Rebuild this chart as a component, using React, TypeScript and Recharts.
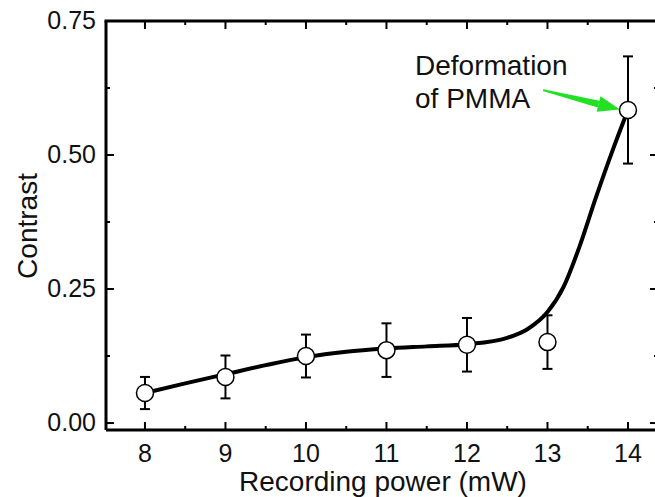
import { ComposedChart, Line, Scatter, ErrorBar, XAxis, YAxis, ReferenceLine } from "recharts";

const FONT = "'Liberation Sans', Arial, Helvetica, sans-serif";
const GREEN = "#22e022";
const PLOT_TOP = 21;
const PLOT_BOTTOM = 430;
const PLOT_LEFT = 106;
const PLOT_RIGHT = 658;

// measured points (recording power in mW, contrast, error)
const powers = [8, 9, 10, 11, 12, 13, 14];
const contrast = [0.056, 0.086, 0.125, 0.136, 0.146, 0.151, 0.584];
const contrastErr = [0.03, 0.04, 0.04, 0.05, 0.05, 0.05, 0.1];

// guide-to-the-eye curve
const fitPower = [8, 8.5, 9, 9.5, 10, 10.5, 11, 11.5, 12, 12.5, 12.75, 13, 13.2, 13.4, 13.6, 13.8, 14];
const fitContrast = [0.056, 0.074, 0.091, 0.108, 0.123, 0.133, 0.139, 0.143, 0.147, 0.159, 0.175, 0.207, 0.254, 0.33, 0.42, 0.505, 0.584];

const xTicks = [8, 8.5, 9, 9.5, 10, 10.5, 11, 11.5, 12, 12.5, 13, 13.5, 14];
const yTicks = [0, 0.125, 0.25, 0.375, 0.5, 0.625, 0.75];

const X_DOMAIN = [7.516, 14.373];
const Y_DOMAIN = [-0.013, 0.75];

const points = powers.map((x, i) => ({ x, y: contrast[i], err: contrastErr[i] }));
const fit = fitPower.map((x, i) => ({ x, y: fitContrast[i] }));

const isMajorX = (v: number) => Number.isInteger(v);
const isMajorY = (v: number) => Math.abs(v / 0.25 - Math.round(v / 0.25)) < 1e-6;

// bottom tick: inward mark on the bottom axis, mirrored mark on the top frame, label
function BottomTick({ x, y, payload }: any) {
  const v = payload.value;
  const major = isMajorX(v);
  const len = major ? 8 : 4;
  const top = y - (PLOT_BOTTOM - PLOT_TOP);
  return (
    <g>
      <line x1={x} y1={y} x2={x} y2={y - len} stroke="#000" strokeWidth={2} />
      <line x1={x} y1={top} x2={x} y2={top + len} stroke="#000" strokeWidth={2} />
      {major ? (
        <text x={x} y={y + 32} textAnchor="middle" fontSize={25} fontFamily={FONT} fill="#111">
          {v}
        </text>
      ) : null}
    </g>
  );
}

// left tick; the topmost tick also carries the top frame line
function LeftTick({ x, y, payload }: any) {
  const v = payload.value;
  const major = isMajorY(v);
  const isTop = Math.abs(v - Y_DOMAIN[1]) < 1e-9;
  return (
    <g>
      {isTop ? (
        <line x1={x - 1.5} y1={y} x2={x + (PLOT_RIGHT - PLOT_LEFT) + 2} y2={y} stroke="#000" strokeWidth={3} />
      ) : null}
      <line x1={x} y1={y} x2={x + (major ? 8 : 4)} y2={y} stroke="#000" strokeWidth={2} />
      {major ? (
        <text x={x - 10} y={y + 8} textAnchor="end" fontSize={25} fontFamily={FONT} fill="#111">
          {v.toFixed(2)}
        </text>
      ) : null}
    </g>
  );
}

function RightTick({ x, y, payload }: any) {
  const major = isMajorY(payload.value);
  return <line x1={x} y1={y} x2={x - (major ? 8 : 4)} y2={y} stroke="#000" strokeWidth={2} />;
}

function OpenCircle({ cx, cy }: any) {
  return <circle cx={cx} cy={cy} r={8.5} fill="#fff" stroke="#000" strokeWidth={1.5} />;
}

function Arrow({ x1, y1, x2, y2 }: any) {
  const dx = x2 - x1;
  const dy = y2 - y1;
  const len = Math.hypot(dx, dy);
  const ux = dx / len;
  const uy = dy / len;
  const px = -uy;
  const py = ux;
  const head = 22;
  const bx = x2 - ux * head;
  const by = y2 - uy * head;
  const shaft = [
    [x1 + px * 1, y1 + py * 1],
    [bx + px * 3.5, by + py * 3.5],
    [bx - px * 3.5, by - py * 3.5],
    [x1 - px * 1, y1 - py * 1]
  ];
  const tip = [
    [x2, y2],
    [bx + px * 8, by + py * 8],
    [bx - px * 8, by - py * 8]
  ];
  return (
    <g>
      <polygon points={shaft.map((p) => p.join(",")).join(" ")} fill={GREEN} />
      <polygon points={tip.map((p) => p.join(",")).join(" ")} fill={GREEN} />
    </g>
  );
}

export default function App() {
  return (
    <div
      style={{
        position: "absolute",
        left: 0,
        top: 0,
        width: 655,
        height: 497,
        overflow: "hidden",
        background: "#fff"
      }}
    >
      <ComposedChart
        width={660}
        height={497}
        margin={{ top: PLOT_TOP, right: 0, bottom: 0, left: 0 }}
      >
        <XAxis
          type="number"
          dataKey="x"
          domain={X_DOMAIN}
          allowDataOverflow
          ticks={xTicks}
          interval={0}
          height={497 - PLOT_BOTTOM}
          tickSize={0}
          tickMargin={0}
          tickLine={false}
          axisLine={{ stroke: "#000", strokeWidth: 3 }}
          tick={<BottomTick />}
          label={{
            content: () => (
              <text x={383} y={491} textAnchor="middle" fontSize={28} fontFamily={FONT} fill="#111">
                Recording power (mW)
              </text>
            )
          }}
        />
        <YAxis
          yAxisId={0}
          type="number"
          dataKey="y"
          domain={Y_DOMAIN}
          allowDataOverflow
          ticks={yTicks}
          interval={0}
          width={PLOT_LEFT}
          tickSize={0}
          tickMargin={0}
          tickLine={false}
          axisLine={{ stroke: "#000", strokeWidth: 3 }}
          tick={<LeftTick />}
          label={{
            content: () => (
              <text
                x={37}
                y={226}
                transform="rotate(-90, 37, 226)"
                textAnchor="middle"
                fontSize={28}
                fontFamily={FONT}
                fill="#111"
              >
                Contrast
              </text>
            )
          }}
        />
        <YAxis
          yAxisId="right"
          orientation="right"
          type="number"
          dataKey="y"
          domain={Y_DOMAIN}
          allowDataOverflow
          ticks={yTicks}
          interval={0}
          width={660 - PLOT_RIGHT}
          tickSize={0}
          tickMargin={0}
          tickLine={false}
          axisLine={{ stroke: "#000", strokeWidth: 2 }}
          tick={<RightTick />}
        />
        <Line
          data={fit}
          dataKey="y"
          type="monotone"
          stroke="#000"
          strokeWidth={4}
          dot={false}
          activeDot={false}
          isAnimationActive={false}
        />
        <Scatter data={points} dataKey="y" shape={<OpenCircle />} isAnimationActive={false}>
          <ErrorBar dataKey="err" direction="y" width={5} stroke="#000" strokeWidth={2} isAnimationActive={false} />
        </Scatter>
        <Scatter yAxisId="right" data={points} dataKey="y" shape={() => <g />} isAnimationActive={false} />
        <ReferenceLine
          ifOverflow="visible"
          segment={[
            { x: 12.945, y: 0.621 },
            { x: 13.9, y: 0.585 }
          ]}
          shape={<Arrow />}
        />
      </ComposedChart>
      <div
        style={{
          position: "absolute",
          left: 415,
          top: 49,
          fontFamily: FONT,
          fontSize: 28,
          lineHeight: "33px",
          color: "#111",
          whiteSpace: "nowrap"
        }}
      >
        Deformation
        <br />
        of PMMA
      </div>
    </div>
  );
}
